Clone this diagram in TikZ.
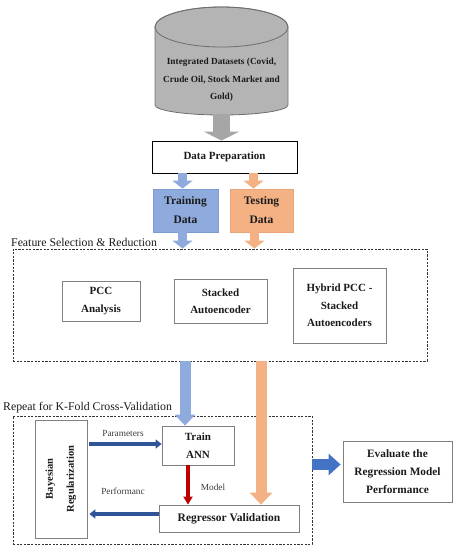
\documentclass[tikz,border=0pt]{standalone}
\usepackage{fontspec}
\setmainfont{Liberation Serif}
\usetikzlibrary{arrows.meta,calc}
\definecolor{cylfill}{HTML}{B4B4B4}
\definecolor{cyldraw}{HTML}{6E6E6E}
\definecolor{arrgray}{HTML}{A6A6A6}
\definecolor{lblue}{HTML}{8FAADC}
\definecolor{lbluedraw}{HTML}{7C9BD4}
\definecolor{lorange}{HTML}{F4B183}
\definecolor{lorangedraw}{HTML}{EBA478}
\definecolor{dblue}{HTML}{4472C4}
\definecolor{ddblue}{HTML}{2F5597}
\definecolor{dred}{HTML}{C00000}
\definecolor{boxgray}{HTML}{808080}
\definecolor{txt}{HTML}{1A1A1A}
\begin{document}
\begin{tikzpicture}[x=1pt,y=-1pt,
  box/.style={draw=boxgray, line width=0.8pt, align=center, inner sep=1pt, text=txt,
    font=\fontsize{11}{17.5}\selectfont\bfseries},
  dbox/.style={draw=black!80, line width=0.9pt, dash pattern=on 2.2pt off 1.4pt, inner sep=0pt},
  lbl/.style={font=\fontsize{11.8}{14}\selectfont, text=txt, inner sep=0pt},
  small/.style={font=\fontsize{9.3}{11}\selectfont, text=txt!85, inner sep=0pt},
  garrow/.style={draw=arrgray, line width=17pt, -{Triangle[width=35pt,length=9pt]}},
  sblue/.style={draw=lblue, line width=9pt, -{Triangle[width=20pt,length=8pt]}},
  sorange/.style={draw=lorange, line width=9pt, -{Triangle[width=20pt,length=8pt]}},
  bblue/.style={draw=lblue, line width=11pt, -{Triangle[width=20pt,length=11pt]}},
  borange/.style={draw=lorange, line width=11pt, -{Triangle[width=22pt,length=12pt]}},
  thinblue/.style={draw=ddblue, line width=3.5pt, -{Triangle[width=9pt,length=6pt]}},
  redarr/.style={draw=dred, line width=4pt, -{Triangle[width=9pt,length=8pt]}},
  evalarr/.style={draw=dblue, line width=11pt, -{Triangle[width=21pt,length=12pt]}}
]
\useasboundingbox (0,0) rectangle (458,550);

% cylinder
\path[fill=cylfill, draw=cyldraw, line width=0.8pt]
  (155,27) -- (155,105)
  arc[start angle=180, end angle=360, x radius=66.5pt, y radius=10pt]
  -- (288,27)
  arc[start angle=0, end angle=180, x radius=66.5pt, y radius=20pt] -- cycle;
\draw[cyldraw, line width=0.8pt] (221.5,27) ellipse [x radius=66.5pt, y radius=20pt];
\node[align=center, text=txt, font=\fontsize{9.3}{17.5}\selectfont\bfseries] (cyl) at (221.5,80)
  {Integrated Datasets (Covid,\\Crude Oil, Stock Market and\\Gold)};
\coordinate (cylbot) at (221.5,114);

% data preparation
\node[box, draw=black, minimum width=145pt, minimum height=32pt] (prep) at (224.5,157) {Data Preparation};
\draw[garrow] (cylbot) -- (cylbot |- prep.north);

% training / testing
\node[box, draw=lbluedraw, fill=lblue, minimum width=65pt, minimum height=43pt,
  font=\fontsize{11.5}{19}\selectfont\bfseries] (train) at (185.5,210.5) {Training\\Data};
\node[box, draw=lorangedraw, fill=lorange, minimum width=63pt, minimum height=43pt,
  font=\fontsize{11.5}{19}\selectfont\bfseries] (test) at (261.5,210.5) {Testing\\Data};
\coordinate (ta) at ($(train.north)+(-3,0)$);
\coordinate (te) at ($(test.north)+(-8,0)$);
\draw[sblue] (ta |- prep.south) -- (ta);
\draw[sorange] (te |- prep.south) -- (te);

% feature selection
\node[dbox, minimum width=414pt, minimum height=112pt] (feat) at (220,305) {};
\node[lbl, anchor=base west] (fsel) at (11,246.5) {Feature Selection \& Reduction};
\coordinate (tb) at ($(train.south)+(-3,0)$);
\coordinate (tf) at ($(test.south)+(-7,0)$);
\draw[sblue] (tb) -- (tb |- feat.north);
\draw[sorange] (tf) -- (tf |- feat.north);

\node[box, minimum width=78pt, minimum height=40pt] (pcc) at (101,301) {PCC\\Analysis};
\node[box, minimum width=93pt, minimum height=44pt] (sae) at (220.5,301) {Stacked\\Autoencoder};
\node[box, minimum width=93pt, minimum height=75pt] (hyb) at (339.5,305.5) {Hybrid PCC -\\Stacked\\Autoencoders};

% cross validation
\node[dbox, minimum width=299pt, minimum height=128pt] (rep) at (162.5,480) {};
\node[lbl, anchor=base west] (rlbl) at (3,410) {Repeat for K-Fold Cross-Validation};

\node[box, minimum width=52pt, minimum height=118pt] (bay) at (61,479) {};
\node[rotate=90, align=center, text=txt, font=\fontsize{10.5}{21}\selectfont\bfseries] (baytxt) at (bay.center) {Bayesian\\Regularization};
\node[box, minimum width=72pt, minimum height=39pt, font=\fontsize{11}{18}\selectfont\bfseries] (ann) at (198,445.5) {Train\\ANN};
\node[box, minimum width=140pt, minimum height=27pt, font=\fontsize{11.5}{14}\selectfont\bfseries] (reg) at (229,518.5) {Regressor Validation};
\node[box, minimum width=109pt, minimum height=61pt, font=\fontsize{11.3}{17.7}\selectfont\bfseries] (eval) at (397.5,471.5) {Evaluate the\\Regression Model\\Performance};

\coordinate (ca) at ($(ann.north)+(-13,0)$);
\coordinate (cr) at ($(reg.north)+(32,0)$);
\draw[bblue] (ca |- feat.south) -- (ca);
\draw[borange] (cr |- feat.south) -- (cr);

\coordinate (pa) at ($(ann.west)+(0,-1.5)$);
\coordinate (pb) at ($(bay.east)+(2,0)$);
\draw[thinblue] (pb |- pa) -- (pa);
\node[small] (plbl) at (123,433) {Parameters};

\coordinate (ra) at ($(reg.west)+(0,-4.5)$);
\draw[thinblue] (ra) -- (pb |- ra);
\node[small] (perf) at (123,491) {Performanc};

\coordinate (ma) at ($(ann.south)+(-10,0)$);
\draw[redarr] (ma) -- (ma |- reg.north);
\node[small] (mlbl) at (213,487) {Model};

\coordinate (ea) at ($(eval.west)+(0,-7)$);
\draw[evalarr] (ea -| rep.east) -- ($(ea)+(-2,0)$);
\end{tikzpicture}
\end{document}
